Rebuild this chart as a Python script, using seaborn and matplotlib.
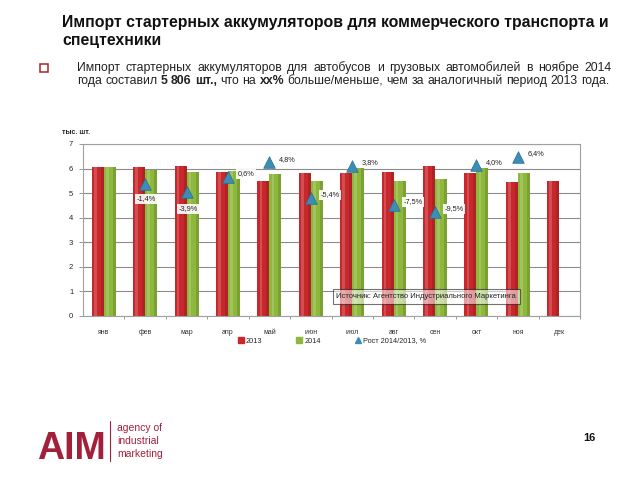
import numpy as np
import pandas as pd
import matplotlib
matplotlib.use("Agg")
import matplotlib.pyplot as plt
import seaborn as sns
from matplotlib.lines import Line2D
from matplotlib.patches import Rectangle

# ---------------- data ----------------
months = ["янв", "фев", "мар", "апр", "май", "июн", "июл", "авг", "сен", "окт", "ноя", "дек"]
v2013 = [6.05, 6.05, 6.09, 5.88, 5.48, 5.80, 5.81, 5.88, 6.10, 5.84, 5.45, 5.50]
v2014 = [6.05, 5.96, 5.86, 5.92, 5.76, 5.50, 6.02, 5.49, 5.56, 6.01, 5.81, np.nan]
growth = [np.nan, -1.4, -3.9, 0.6, 4.8, -5.4, 3.8, -7.5, -9.5, 4.0, 6.4, np.nan]
growth_labels = ["", "-1,4%", "-3,9%", "0,6%", "4,8%", "-5,4%", "3,8%", "-7,5%", "-9,5%", "4,0%", "6,4%", ""]
series_names = ["2013", "2014", "Рост 2014/2013, %"]

W, H = 638, 479
RED = "#C8282C"
GREEN = "#8DB83C"
TRI = "#3B8DB5"
LOGO = "#A3203A"

sns.set_theme(style="white")
plt.rcParams["font.family"] = ["Liberation Sans", "DejaVu Sans"]

fig = plt.figure(figsize=(W / 100, H / 100), dpi=100)

def px(x, y):
    return x / W, 1 - y / H

# ---------------- chart ----------------
ax = fig.add_axes([83 / W, 1 - 316 / H, (580 - 83) / W, (316 - 144) / H])
df = pd.DataFrame({
    "month": months * 2,
    "year": ["2013"] * 12 + ["2014"] * 12,
    "value": v2013 + v2014,
})
sns.barplot(data=df, x="month", y="value", hue="year", order=months,
            hue_order=["2013", "2014"], palette=[RED, GREEN], width=0.58,
            gap=0.0, ax=ax, legend=False, saturation=1, edgecolor="none")

# subtle cylinder shading
for bar in list(ax.patches):
    if not np.isfinite(bar.get_height()) or bar.get_height() == 0:
        continue
    x0, w, h = bar.get_x(), bar.get_width(), bar.get_height()
    ax.add_patch(Rectangle((x0 + w * 0.18, 0), w * 0.22, h, color="white",
                           alpha=0.18, lw=0, zorder=bar.get_zorder() + 0.1))
    ax.add_patch(Rectangle((x0 + w * 0.75, 0), w * 0.25, h, color="black",
                           alpha=0.12, lw=0, zorder=bar.get_zorder() + 0.1))

ax.set_ylim(0, 7)
ax.set_xlim(-0.5, 11.5)
ax.set_yticks(range(0, 8))
ax.set_xlabel("")
ax.set_ylabel("")
ax.yaxis.grid(True, color="#8c8c8c", lw=0.8)
ax.set_axisbelow(True)
for s in ax.spines.values():
    s.set_color("#a0a0a0")
    s.set_linewidth(0.8)
ax.tick_params(axis="y", which="major", length=3, width=0.6, color="#888888",
               labelsize=5.5, pad=4, left=True)
ax.tick_params(axis="x", which="major", length=0, labelsize=5, pad=9,
               labelcolor="#333333")
ax.set_xticks(np.arange(len(months)) + 0.5, minor=True)
ax.tick_params(axis="x", which="minor", length=2.5, width=0.6, color="#888888",
               bottom=True)

# growth on hidden secondary axis
ax2 = ax.twinx()
ax2.set_ylim(-39.5, 10)
idx = np.arange(len(months))
gdf = pd.DataFrame({"x": idx, "g": growth}).dropna()
sns.scatterplot(data=gdf, x="x", y="g", marker="^", s=70, color=TRI,
                edgecolor="#2a6f92", linewidth=0.5, ax=ax2, zorder=5, legend=False)
ax2.set_xlim(-0.5, 11.5)
ax2.set_yticks([])
ax2.set_ylabel("")
ax2.set_xlabel("")
for s in ax2.spines.values():
    s.set_visible(False)

label_offsets = {1: (-6, -11), 2: (-6, -12)}
for i, (g, lab) in enumerate(zip(growth, growth_labels)):
    if not np.isfinite(g):
        continue
    dx, dy = label_offsets.get(i, (7, 2))
    ax2.annotate(lab, (i, g), xytext=(dx, dy), textcoords="offset points",
                 fontsize=5.3, color="#222222", va="center", ha="left",
                 bbox=dict(boxstyle="square,pad=0.2", fc="white", ec="none", alpha=0.9),
                 zorder=6)

# source box
ax2.text(0.51, 0.113, "Источник: Агентство Индустриального Маркетинга",
         transform=ax.transAxes, fontsize=5.5, va="center", ha="left",
         color="#222222", zorder=7,
         bbox=dict(boxstyle="square,pad=0.5", fc="white", alpha=0.55,
                   ec="black", lw=0.8))

# unit label
fig.text(*px(62, 132), "тыс. шт.", fontsize=5, fontweight="bold", va="center",
         ha="left", color="#222222")

# legend
handles = [
    Line2D([], [], marker="s", ls="none", color=RED, markersize=4.5),
    Line2D([], [], marker="s", ls="none", color=GREEN, markersize=4.5),
    Line2D([], [], marker="^", ls="none", color=TRI, markersize=5),
]
ax.legend(handles, series_names, loc="center", bbox_to_anchor=(0.5, -0.145),
          ncol=3, frameon=False, fontsize=5.3, handletextpad=0.2,
          columnspacing=4.5, handlelength=1)

# ---------------- title & text ----------------
fig.text(*px(62, 22), "Импорт стартерных аккумуляторов для коммерческого транспорта и",
         fontsize=11.4, fontweight="bold", va="center", ha="left", color="#111111")
fig.text(*px(62, 41), "спецтехники", fontsize=11.4, fontweight="bold",
         va="center", ha="left", color="#111111")

# bullet
fig.patches.append(Rectangle(px(40, 72), 8 / W, 8 / H, transform=fig.transFigure,
                             fill=False, ec="#B0202A", lw=1.1, figure=fig))

renderer = fig.canvas.get_renderer()
FS = 8.8

def width_of(s, weight="normal"):
    t = fig.text(0, 0, s, fontsize=FS, fontweight=weight)
    w = t.get_window_extent(renderer).width
    t.remove()
    return w

space_w = width_of("a a") - width_of("aa")

def draw_words(words, x0, x1, ybase, justify):
    widths = [width_of(w, wt) for w, wt in words]
    if justify and len(words) > 1:
        gap = (x1 - x0 - sum(widths)) / (len(words) - 1)
    else:
        gap = space_w
    x = x0
    for (w, wt), ww in zip(words, widths):
        fig.text(x / W, 1 - ybase / H, w, fontsize=FS, fontweight=wt,
                 va="baseline", ha="left", color="#222222")
        x += ww + gap

line1 = "Импорт стартерных аккумуляторов для автобусов и грузовых автомобилей в ноябре 2014"
draw_words([(w, "normal") for w in line1.split(" ")], 77, 612, 71, True)
line2 = [("года", "normal"), ("составил", "normal"), ("5", "bold"), ("806", "bold"),
         ("шт.,", "bold"), ("что", "normal"), ("на", "normal"), ("xx%", "bold"),
         ("больше/меньше,", "normal"), ("чем", "normal"), ("за", "normal"),
         ("аналогичный", "normal"), ("период", "normal"), ("2013", "normal"),
         ("года.", "normal")]
draw_words(line2, 77, 612, 84, False)

# ---------------- logo & page ----------------
fig.text(*px(37, 459), "AIM", fontsize=27, fontweight="bold", color=LOGO,
         va="baseline", ha="left")
fig.lines.append(Line2D([110 / W, 110 / W], [1 - 421 / H, 1 - 461 / H],
                        transform=fig.transFigure, color=LOGO, lw=0.8))
for k, word in enumerate(["agency of", "industrial", "marketing"]):
    fig.text(*px(117, 431 + k * 13), word, fontsize=7.5, color=LOGO,
             va="baseline", ha="left")
fig.text(*px(583, 438), "16", fontsize=8, fontweight="bold", va="center",
         ha="left", color="#111111")

fig.savefig("out.png", dpi=100)
